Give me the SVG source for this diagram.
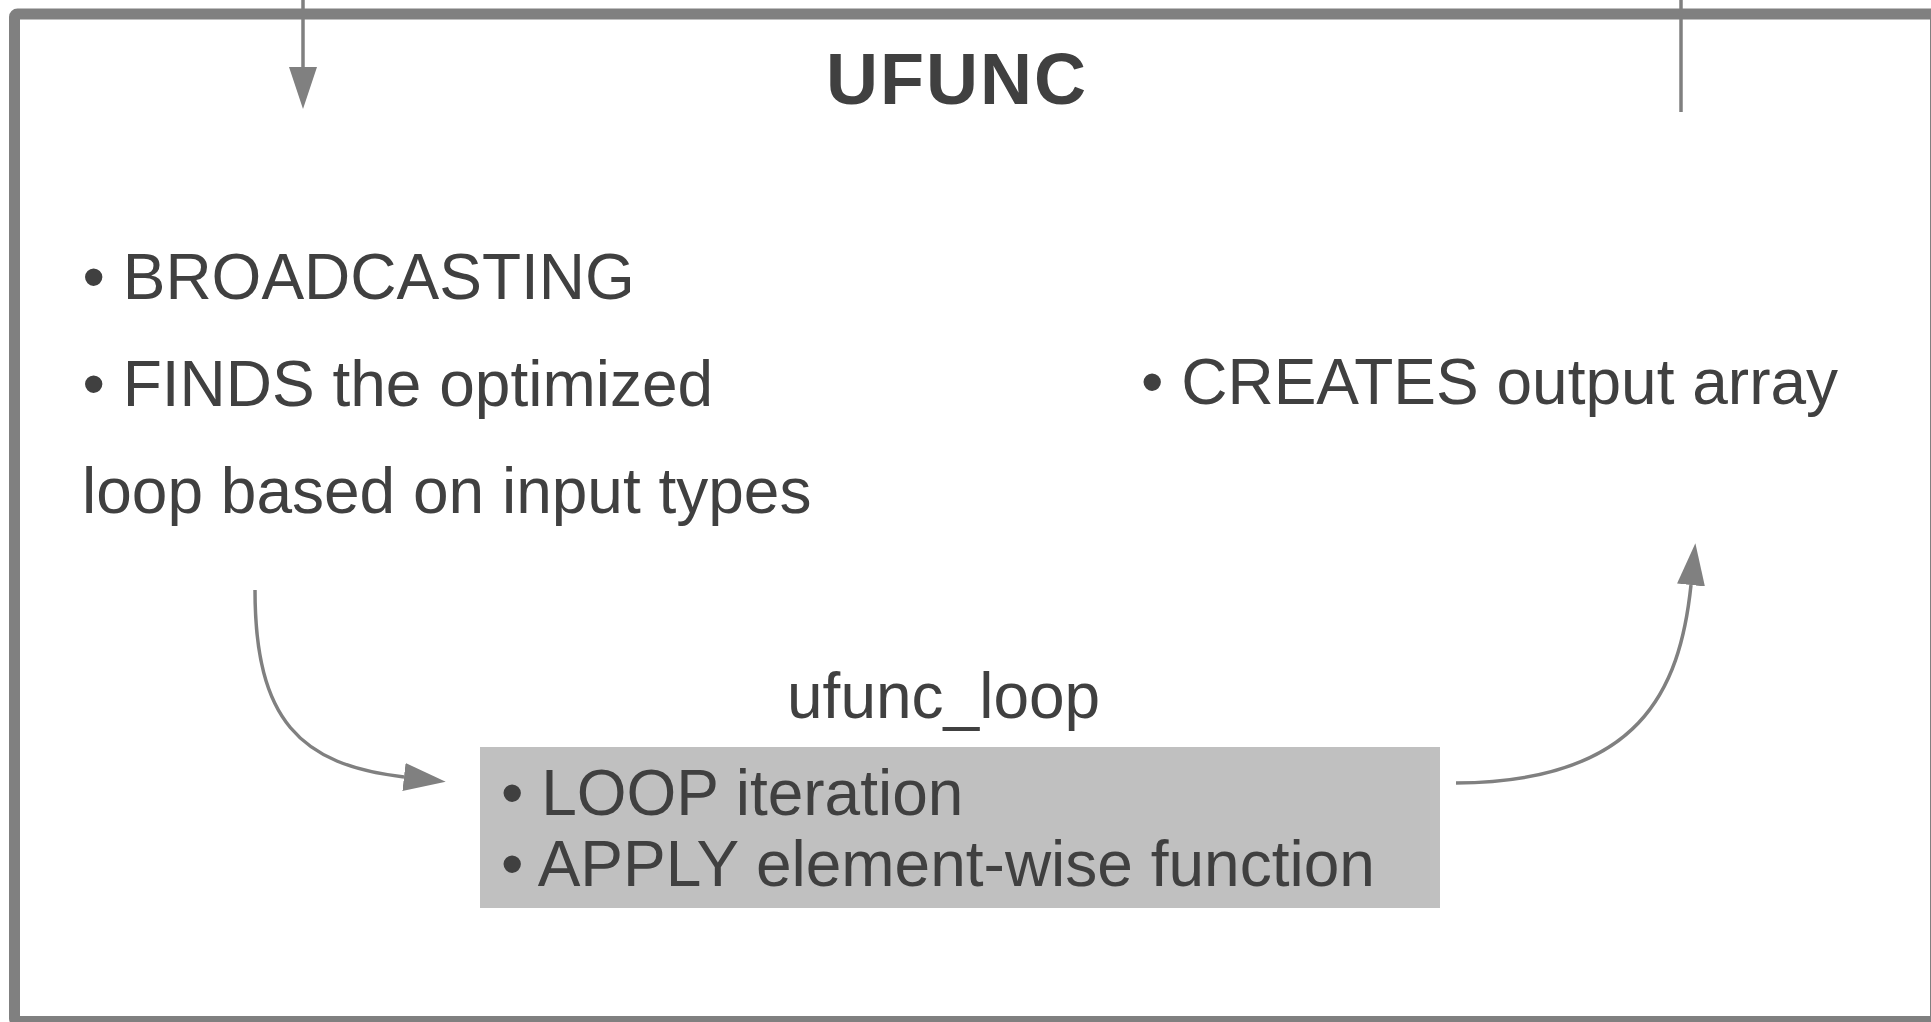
<svg xmlns="http://www.w3.org/2000/svg" width="1931" height="1022" viewBox="0 0 1931 1022">
  <style>
    .txt { font-family: "Liberation Sans", Arial, sans-serif; font-size: 64px; fill: #404040; }
    .title { font-family: "Liberation Sans", Arial, sans-serif; font-size: 72px; font-weight: bold; fill: #404040; }
    .conn { fill: none; stroke: #808080; stroke-width: 3.5; }
  </style>
  <defs>
    <marker id="arrow" markerUnits="userSpaceOnUse" markerWidth="44" markerHeight="30" refX="0" refY="14" orient="auto" viewBox="0 0 44 30">
      <path d="M0,0 L42,14 L0,28 Z" fill="#808080"/>
    </marker>
  </defs>
  <rect width="1931" height="1022" fill="#ffffff"/>

  <g id="ufunc">
    <rect x="14.5" y="14" width="1921" height="1007.5" rx="3" fill="none" stroke="#808080" stroke-width="11"/>
    <text class="title" x="826" y="104" textLength="260" lengthAdjust="spacing">UFUNC</text>
  </g>

  <g id="input-step">
    <text class="txt" x="82.5" y="299">• BROADCASTING</text>
    <text class="txt" x="82.5" y="406">• FINDS the optimized</text>
    <text class="txt" x="82" y="513">loop based on input types</text>
  </g>

  <g id="output-step">
    <text class="txt" x="1141" y="404">• CREATES output array</text>
  </g>

  <g id="ufunc_loop">
    <text class="txt" x="787" y="718">ufunc_loop</text>
    <rect x="480" y="747" width="960" height="161" fill="#c0c0c0"/>
    <text class="txt" x="501" y="815">• LOOP iteration</text>
    <text class="txt" x="501" y="886">• APPLY element-wise function</text>
  </g>

  <g id="connectors">
    <path class="conn" d="M303,0 L303,67" marker-end="url(#arrow)"/>
    <path class="conn" d="M1681,0 L1681,112"/>
    <path class="conn" d="M255,590 C255,720 300,765 404,777" marker-end="url(#arrow)"/>
    <path class="conn" d="M1456,783 C1640,782 1680,690 1691,585" marker-end="url(#arrow)"/>
  </g>
</svg>
